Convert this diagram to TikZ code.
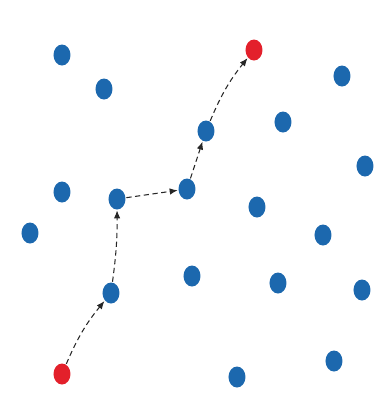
\documentclass[tikz,border=0pt]{standalone}
\usepackage{tikz}
\usetikzlibrary{arrows.meta, shapes.geometric}
\definecolor{dotblue}{HTML}{1C68AE}
\definecolor{dotred}{HTML}{E3202B}
\tikzset{
  >=Latex,
  dot/.style={
    ellipse, fill=#1, draw=none, inner sep=0pt,
    minimum width=3.4mm, minimum height=4.2mm
  },
  dot/.default=dotblue,
  hop/.style={->, densely dashed, line width=0.6pt, draw=black!85,
    shorten >=0.3pt, shorten <=0.3pt, >={Latex[length=1.6mm,width=1.3mm]}}
}
\begin{document}
\begin{tikzpicture}[x=0.2mm,y=-0.2mm]
  \useasboundingbox (0,0) rectangle (375,394);
  % scattered points
  \node[dot] (p1) at (62,55) {};
  \node[dot] (p2) at (104,89) {};
  \node[dot] (p3) at (206,131) {};
  \node[dot] (p4) at (283,122) {};
  \node[dot] (p5) at (342,76) {};
  \node[dot] (p6) at (365,166) {};
  \node[dot] (p7) at (62,192) {};
  \node[dot] (p8) at (117,199) {};
  \node[dot] (p9) at (187,189) {};
  \node[dot] (p10) at (257,207) {};
  \node[dot] (p11) at (30,233) {};
  \node[dot] (p12) at (323,235) {};
  \node[dot] (p13) at (192,276) {};
  \node[dot] (p14) at (278,283) {};
  \node[dot] (p15) at (362,290) {};
  \node[dot] (p16) at (111,293) {};
  \node[dot] (p17) at (334,361) {};
  \node[dot] (p18) at (237,377) {};
  % start and goal
  \node[dot=dotred] (start) at (62,374) {};
  \node[dot=dotred] (goal) at (254,50) {};
  % route
  \draw[hop] (start) to[bend left=8] (p16);
  \draw[hop] (p16) to[bend right=4] (p8);
  \draw[hop] (p8) -- (p9);
  \draw[hop] (p9) -- (p3);
  \draw[hop] (p3) to[bend left=8] (goal);
\end{tikzpicture}
\end{document}
